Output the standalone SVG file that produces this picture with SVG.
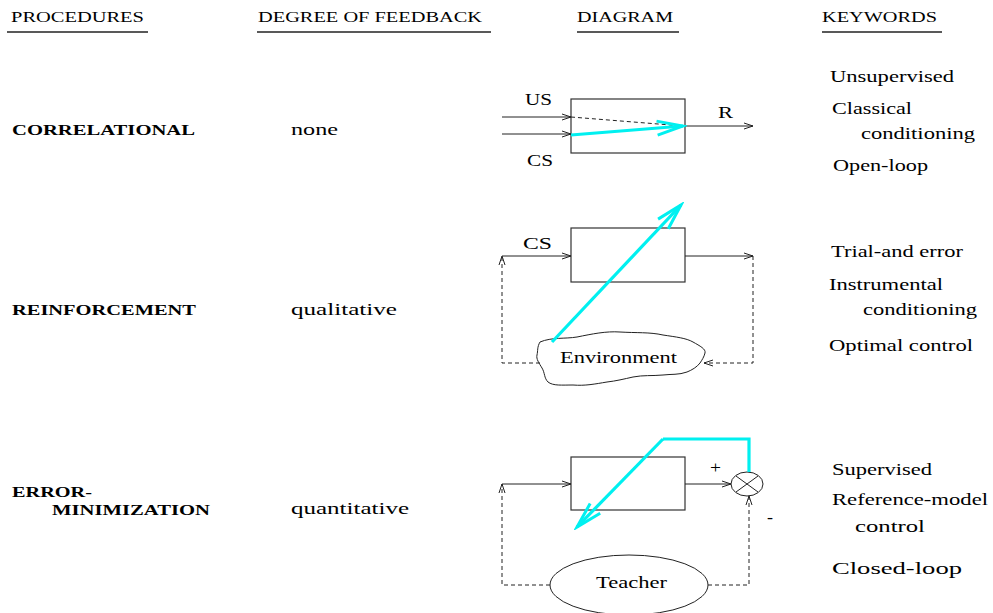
<svg xmlns="http://www.w3.org/2000/svg" width="993" height="613" viewBox="0 0 993 613">
  <defs>
    <marker id="arrow" markerUnits="userSpaceOnUse" markerWidth="12" markerHeight="10" refX="9" refY="4" orient="auto">
      <path d="M0,1 L9,4 L0,7" fill="none" stroke="#222" stroke-width="1"/>
    </marker>
    <marker id="cyanHead" markerUnits="userSpaceOnUse" markerWidth="32" markerHeight="20" refX="28" refY="10" orient="auto">
      <path d="M2,3 L28,10 L2,17" fill="none" stroke="#00f0f0" stroke-width="3" stroke-linejoin="miter"/>
    </marker>
    <style>
      text { font-family: "Liberation Serif", "Times New Roman", serif; fill: #000; }
      .hdr { font-size: 15px; }
      .proc { font-size: 15px; font-weight: bold; }
      .deg { font-size: 16px; }
      .kw { font-size: 16px; }
      .lbl { font-size: 16px; }
      .rule { stroke: #222; stroke-width: 1.3; }
      .box { fill: none; stroke: #333; stroke-width: 1.2; }
      .wire { fill: none; stroke: #222; stroke-width: 1; }
      .dash { fill: none; stroke: #222; stroke-width: 1; stroke-dasharray: 4 3; }
      .cyan { fill: none; stroke: #00f0f0; stroke-width: 3.2; }
      .shape { fill: #fff; stroke: #222; stroke-width: 1; }
    </style>
  </defs>

  <!-- column headings -->
  <g id="headings">
    <text class="hdr" x="11" y="22" textLength="133" lengthAdjust="spacingAndGlyphs">PROCEDURES</text>
    <text class="hdr" x="258" y="22" textLength="224" lengthAdjust="spacingAndGlyphs">DEGREE OF FEEDBACK</text>
    <text class="hdr" x="577" y="22" textLength="96" lengthAdjust="spacingAndGlyphs">DIAGRAM</text>
    <text class="hdr" x="822" y="22" textLength="115" lengthAdjust="spacingAndGlyphs">KEYWORDS</text>
    <line class="rule" x1="7" y1="32" x2="148" y2="32"/>
    <line class="rule" x1="257" y1="32" x2="491" y2="32"/>
    <line class="rule" x1="577" y1="32" x2="679" y2="32"/>
    <line class="rule" x1="822" y1="32" x2="942" y2="32"/>
  </g>

  <!-- procedure names -->
  <g id="procedures">
    <text class="proc" x="12" y="135" textLength="183" lengthAdjust="spacingAndGlyphs">CORRELATIONAL</text>
    <text class="proc" x="12" y="315" textLength="184" lengthAdjust="spacingAndGlyphs">REINFORCEMENT</text>
    <text class="proc" x="12" y="497" textLength="80" lengthAdjust="spacingAndGlyphs">ERROR-</text>
    <text class="proc" x="52" y="515" textLength="158" lengthAdjust="spacingAndGlyphs">MINIMIZATION</text>
  </g>

  <!-- degree of feedback -->
  <g id="feedback">
    <text class="deg" x="291" y="135" textLength="47" lengthAdjust="spacingAndGlyphs">none</text>
    <text class="deg" x="291" y="315" textLength="106" lengthAdjust="spacingAndGlyphs">qualitative</text>
    <text class="deg" x="291" y="514" textLength="118" lengthAdjust="spacingAndGlyphs">quantitative</text>
  </g>

  <!-- keywords -->
  <g id="keywords">
    <text class="kw" x="830" y="82" textLength="124" lengthAdjust="spacingAndGlyphs">Unsupervised</text>
    <text class="kw" x="832" y="114" textLength="80" lengthAdjust="spacingAndGlyphs">Classical</text>
    <text class="kw" x="861" y="139" textLength="114" lengthAdjust="spacingAndGlyphs">conditioning</text>
    <text class="kw" x="833" y="171" textLength="95" lengthAdjust="spacingAndGlyphs">Open-loop</text>
    <text class="kw" x="831" y="257" textLength="132" lengthAdjust="spacingAndGlyphs">Trial-and error</text>
    <text class="kw" x="829" y="290" textLength="114" lengthAdjust="spacingAndGlyphs">Instrumental</text>
    <text class="kw" x="863" y="315" textLength="114" lengthAdjust="spacingAndGlyphs">conditioning</text>
    <text class="kw" x="829" y="351" textLength="144" lengthAdjust="spacingAndGlyphs">Optimal control</text>
    <text class="kw" x="832" y="475" textLength="100" lengthAdjust="spacingAndGlyphs">Supervised</text>
    <text class="kw" x="832" y="505" textLength="156" lengthAdjust="spacingAndGlyphs">Reference-model</text>
    <text class="kw" x="855" y="532" textLength="70" lengthAdjust="spacingAndGlyphs">control</text>
    <text class="kw" x="832" y="574" textLength="130" lengthAdjust="spacingAndGlyphs">Closed-loop</text>
  </g>

  <!-- correlational diagram -->
  <g id="box-correlational">
    <rect class="box" x="571" y="99" width="114" height="54"/>
  </g>
  <g id="labels-correlational">
    <text class="lbl" x="525" y="105" textLength="27" lengthAdjust="spacingAndGlyphs">US</text>
    <text class="lbl" x="527" y="166" textLength="26" lengthAdjust="spacingAndGlyphs">CS</text>
    <text class="lbl" x="718" y="118" textLength="15" lengthAdjust="spacingAndGlyphs">R</text>
  </g>

  <!-- reinforcement diagram -->
  <g id="box-reinforcement">
    <rect class="box" x="571" y="228" width="114" height="54"/>
  </g>
  <g id="environment">
    <path class="shape" d="M540,342 C552,337 565,339 577,337 C592,334 606,331 620,332 C636,333 650,332 663,335 C676,337 686,338 693,342 C700,346 706,349 705,353 C704,357 702,360 700,363 C697,367 692,370 687,372 C679,375 671,374 663,375 C652,376 643,375 633,377 C624,379 616,381 607,382 C595,384 585,386 573,385 C562,385 553,386 548,382 C544,378 545,373 542,368 C539,363 536,359 537,355 C538,351 537,347 540,342 Z"/>
    <text class="lbl" x="560" y="363" textLength="117" lengthAdjust="spacingAndGlyphs">Environment</text>
  </g>
  <g id="labels-reinforcement">
    <text class="lbl" x="523" y="249" textLength="29" lengthAdjust="spacingAndGlyphs">CS</text>
  </g>

  <!-- error-minimization diagram -->
  <g id="box-error">
    <rect class="box" x="571" y="457" width="114" height="53"/>
  </g>
  <g id="comparator">
    <ellipse class="shape" cx="747" cy="484" rx="16" ry="12"/>
    <line class="wire" x1="736" y1="476" x2="758" y2="492"/>
    <line class="wire" x1="736" y1="492" x2="758" y2="476"/>
    <text class="lbl" x="710" y="473" textLength="11" lengthAdjust="spacingAndGlyphs">+</text>
    <text class="lbl" x="767" y="523" textLength="6" lengthAdjust="spacingAndGlyphs">-</text>
  </g>
  <g id="teacher">
    <ellipse class="shape" cx="629" cy="585" rx="79" ry="30"/>
    <text class="lbl" x="596" y="588" textLength="71" lengthAdjust="spacingAndGlyphs">Teacher</text>
  </g>

  <!-- connectors -->
  <g id="connectors">
    <!-- correlational -->
    <line class="wire" x1="502" y1="117" x2="571" y2="117" marker-end="url(#arrow)"/>
    <line class="wire" x1="502" y1="134" x2="571" y2="134" marker-end="url(#arrow)"/>
    <line class="dash" x1="571" y1="117" x2="683" y2="126"/>
    <line class="wire" x1="685" y1="126" x2="753" y2="126" marker-end="url(#arrow)"/>
    <line class="cyan" x1="571" y1="135" x2="683" y2="126" marker-end="url(#cyanHead)"/>

    <!-- reinforcement -->
    <line class="wire" x1="502" y1="256" x2="571" y2="256" marker-end="url(#arrow)"/>
    <line class="wire" x1="685" y1="256" x2="753" y2="256" marker-end="url(#arrow)"/>
    <polyline class="dash" points="753,256 753,363 704,363" marker-end="url(#arrow)"/>
    <polyline class="dash" points="540,363 502,363 502,256" marker-end="url(#arrow)"/>
    <line class="cyan" x1="552" y1="342" x2="681" y2="205" marker-end="url(#cyanHead)"/>

    <!-- error-minimization -->
    <line class="wire" x1="502" y1="484" x2="571" y2="484" marker-end="url(#arrow)"/>
    <line class="wire" x1="685" y1="484" x2="731" y2="484" marker-end="url(#arrow)"/>
    <polyline class="dash" points="550,585 502,585 502,484" marker-end="url(#arrow)"/>
    <polyline class="dash" points="708,585 749,585 749,496" marker-end="url(#arrow)"/>
    <polyline class="cyan" points="749,472 749,439 663,439"/>
    <line class="cyan" x1="663" y1="439" x2="577" y2="527" marker-end="url(#cyanHead)"/>
  </g>
</svg>
